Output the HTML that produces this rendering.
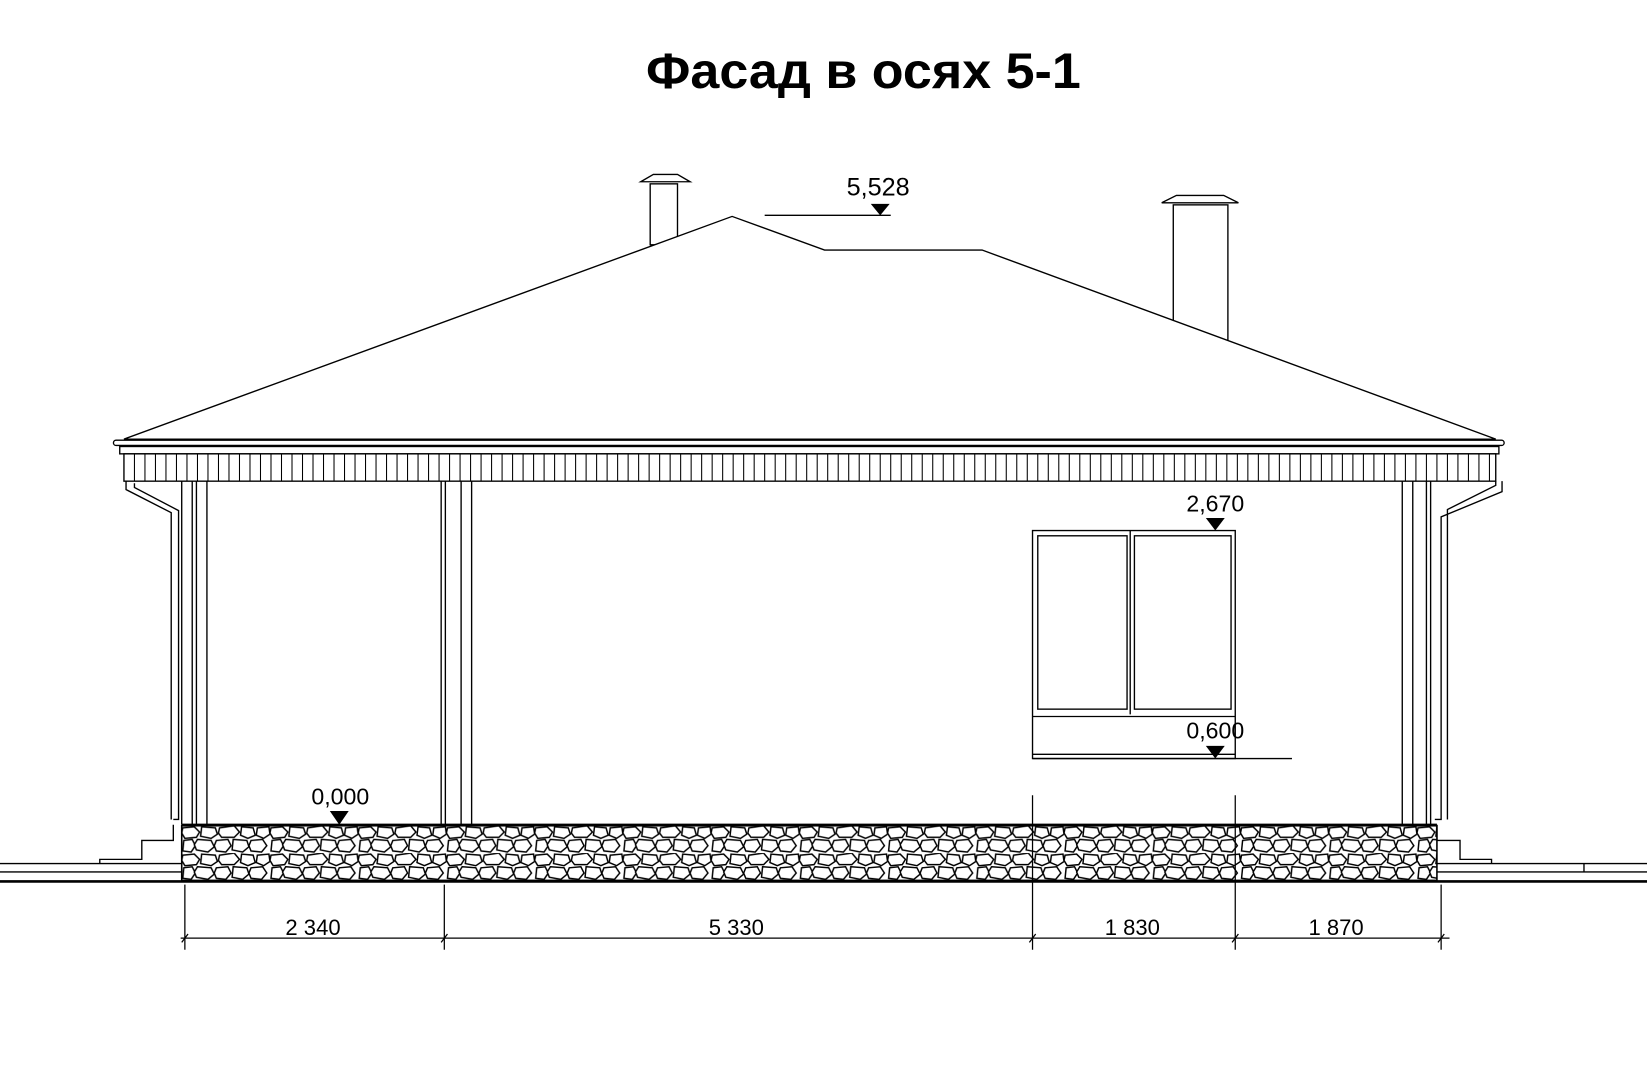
<!DOCTYPE html>
<html><head><meta charset="utf-8"><style>
html,body{margin:0;padding:0;background:#fff;}
svg{display:block;}
text{font-family:"Liberation Sans",sans-serif;fill:#000;}
</style></head><body>
<svg width="1647" height="1080" viewBox="0 0 1568 1028" preserveAspectRatio="none" xmlns="http://www.w3.org/2000/svg">
<defs>
<pattern id="stone" x="173" y="786" width="84" height="26" patternUnits="userSpaceOnUse">
<rect width="84" height="26" fill="#fff"/>
<g fill="#fff" stroke="#000" stroke-width="1.4">
<path d="M1 2 L12 1 L17 6 L14 11 L3 12 L0 7 Z"/>
<path d="M19 1 L32 2 L34 8 L28 12 L18 10 Z"/>
<path d="M36 2 L50 0 L55 6 L50 11 L38 11 L35 7 Z"/>
<path d="M57 1 L68 2 L70 9 L63 12 L56 9 Z"/>
<path d="M72 2 L83 1 L84 8 L78 12 L71 9 Z"/>
<path d="M2 14 L10 13 L13 19 L9 25 L1 24 Z"/>
<path d="M15 13 L28 14 L31 20 L25 25 L14 23 L12 18 Z"/>
<path d="M33 14 L44 13 L47 19 L42 25 L33 24 L31 19 Z"/>
<path d="M49 13 L62 14 L64 20 L58 25 L48 23 Z"/>
<path d="M66 14 L77 13 L81 19 L76 25 L66 24 L64 19 Z"/>
</g>
</pattern>
</defs>
<text x="822" y="84" font-size="48" font-weight="bold" text-anchor="middle" textLength="414" lengthAdjust="spacingAndGlyphs">Фасад в осях 5-1</text>

<g fill="none" stroke="#000" stroke-width="1.3">
<rect x="619" y="175" width="26" height="58" fill="#fff"/>
<path d="M610 173 L657 173 L645 166 L622 166 Z" fill="#fff"/>
<rect x="1117" y="195" width="52" height="130" fill="#fff"/>
<path d="M1106 193 L1179 193 L1165 186 L1120 186 Z" fill="#fff"/>
<path d="M118 418 L697 206 L785 238 L935 238 L1424 418 Z" fill="#fff"/>
<line x1="728" y1="205" x2="848" y2="205"/>
<rect x="108" y="419" width="1324" height="5" rx="2.5" fill="#fff"/>
<rect x="114" y="425" width="1313" height="7" fill="#fff"/>
<rect x="118" y="432" width="1306" height="26" fill="#fff"/>
</g>
<g fill="none" stroke="#000" stroke-width="1.3">
<line x1="173" y1="458" x2="173" y2="785"/>
<line x1="183" y1="458" x2="183" y2="785"/>
<line x1="187" y1="458" x2="187" y2="785"/>
<line x1="197" y1="458" x2="197" y2="785"/>
<path d="M120 458 L120 466 L163 488 L163 780 M128 460 L128 464 L170 486 L170 780 L165 780"/>
<line x1="420" y1="458" x2="420" y2="785"/>
<line x1="424" y1="458" x2="424" y2="785"/>
<line x1="439" y1="458" x2="439" y2="785"/>
<line x1="449" y1="458" x2="449" y2="785"/>
<line x1="1335" y1="458" x2="1335" y2="785"/>
<line x1="1345" y1="458" x2="1345" y2="785"/>
<line x1="1358" y1="458" x2="1358" y2="785"/>
<line x1="1362" y1="458" x2="1362" y2="785"/>
<path d="M1424 458 L1424 462 L1378 485 L1378 780 M1430 458 L1430 468 L1372 492 L1372 780 L1366 780"/>
<path d="M95 822 V818 H135 V800 H165 V785"/>
<path d="M1368 785 V800 H1390 V818 H1420 V822"/>
<line x1="0" y1="822" x2="173" y2="822"/>
<line x1="1368" y1="822" x2="1568" y2="822"/>
<line x1="0" y1="830" x2="173" y2="830"/>
<line x1="1368" y1="830" x2="1568" y2="830"/>
<line x1="1508" y1="822" x2="1508" y2="830"/>
</g>
<rect x="173" y="786" width="1195" height="52" fill="url(#stone)" stroke="#000" stroke-width="1.5"/>
<line x1="0" y1="839" x2="1568" y2="839" stroke="#000" stroke-width="2.5"/>
<line x1="173" y1="785" x2="1368" y2="785" stroke="#000" stroke-width="2"/>

<g fill="none" stroke="#000" stroke-width="1.3">
<rect x="983" y="505" width="193" height="217" fill="#fff"/>
<rect x="988" y="510" width="85" height="165"/>
<rect x="1080" y="510" width="92" height="165"/>
<line x1="1076" y1="505" x2="1076" y2="680"/>
<line x1="983" y1="682" x2="1176" y2="682"/>
<line x1="983" y1="718" x2="1176" y2="718"/>
<line x1="983" y1="722" x2="1230" y2="722"/>
</g>

<g fill="#000">
<path d="M829 194 L847 194 L838 205 Z"/>
<path d="M1148 493 L1166 493 L1157 505 Z"/>
<path d="M1148 710 L1166 710 L1157 722 Z"/>
<path d="M314 772 L332 772 L323 785 Z"/>
</g>
<text x="836" y="186" font-size="24" text-anchor="middle">5,528</text>
<text x="1157" y="487" font-size="22" text-anchor="middle">2,670</text>
<text x="1157" y="703" font-size="22" text-anchor="middle">0,600</text>
<text x="324" y="766" font-size="22" text-anchor="middle">0,000</text>

<g fill="none" stroke="#000" stroke-width="1.2">
<line x1="172" y1="893" x2="1380" y2="893"/>
<line x1="176" y1="842" x2="176" y2="904"/>
<line x1="423" y1="842" x2="423" y2="904"/>
<line x1="983" y1="757" x2="983" y2="904"/>
<line x1="1176" y1="757" x2="1176" y2="904"/>
<line x1="1372" y1="842" x2="1372" y2="904"/>
<path d="M173 897 L179 889 M420 897 L426 889 M980 897 L986 889 M1173 897 L1179 889 M1369 897 L1375 889"/>
</g>
<text x="298" y="890" font-size="21" text-anchor="middle">2 340</text>
<text x="701" y="890" font-size="21" text-anchor="middle">5 330</text>
<text x="1078" y="890" font-size="21" text-anchor="middle">1 830</text>
<text x="1272" y="890" font-size="21" text-anchor="middle">1 870</text>

<g stroke="#000" stroke-width="1">
<path d="M128 432V458M138 432V458M148 432V458M158 432V458M168 432V458M178 432V458M188 432V458M198 432V458M208 432V458M218 432V458M228 432V458M238 432V458M248 432V458M258 432V458M268 432V458M278 432V458M288 432V458M298 432V458M308 432V458M318 432V458M328 432V458M338 432V458M348 432V458M358 432V458M368 432V458M378 432V458M388 432V458M398 432V458M408 432V458M418 432V458M428 432V458M438 432V458M448 432V458M458 432V458M468 432V458M478 432V458M488 432V458M498 432V458M508 432V458M518 432V458M528 432V458M538 432V458M548 432V458M558 432V458M568 432V458M578 432V458M588 432V458M598 432V458M608 432V458M618 432V458M628 432V458M638 432V458M648 432V458M658 432V458M668 432V458M678 432V458M688 432V458M698 432V458M708 432V458M718 432V458M728 432V458M738 432V458M748 432V458M758 432V458M768 432V458M778 432V458M788 432V458M798 432V458M808 432V458M818 432V458M828 432V458M838 432V458M848 432V458M858 432V458M868 432V458M878 432V458M888 432V458M898 432V458M908 432V458M918 432V458M928 432V458M938 432V458M948 432V458M958 432V458M968 432V458M978 432V458M988 432V458M998 432V458M1008 432V458M1018 432V458M1028 432V458M1038 432V458M1048 432V458M1058 432V458M1068 432V458M1078 432V458M1088 432V458M1098 432V458M1108 432V458M1118 432V458M1128 432V458M1138 432V458M1148 432V458M1158 432V458M1168 432V458M1178 432V458M1188 432V458M1198 432V458M1208 432V458M1218 432V458M1228 432V458M1238 432V458M1248 432V458M1258 432V458M1268 432V458M1278 432V458M1288 432V458M1298 432V458M1308 432V458M1318 432V458M1328 432V458M1338 432V458M1348 432V458M1358 432V458M1368 432V458M1378 432V458M1388 432V458M1398 432V458M1408 432V458M1418 432V458"/>
</g>
</svg>
</body></html>
